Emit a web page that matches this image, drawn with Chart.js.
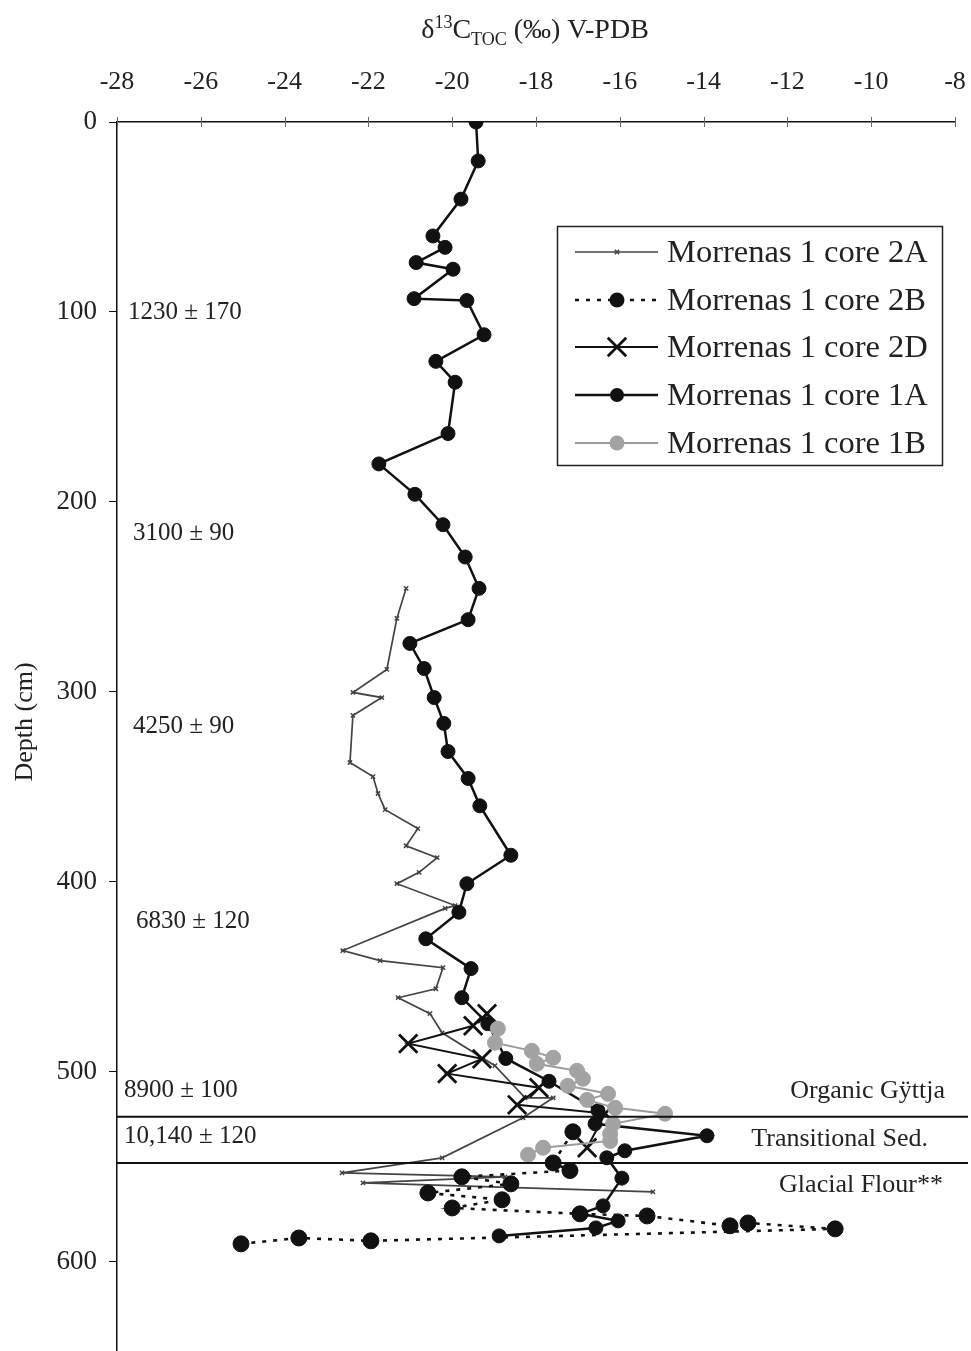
<!DOCTYPE html>
<html><head><meta charset="utf-8">
<script src="https://cdn.jsdelivr.net/npm/chart.js@4.4.1/dist/chart.umd.min.js"></script>
<style>html,body{margin:0;padding:0;background:#fff;}#wrap{width:971px;height:1351px;}</style>
</head><body><div id="wrap"><canvas id="c" width="971" height="1351"></canvas></div>
<script>
// ---- data (δ13C in ‰, depth in cm) ----
const core2A_d13C = [-21.10,-21.32,-21.56,-22.37,-21.68,-22.37,-22.44,-21.89,-21.77,-21.60,-20.82,-21.10,-20.36,-20.79,-21.32,-19.93,-20.17,-22.61,-21.72,-20.22,-20.39,-21.29,-20.53,-20.24,-18.98,-18.26,-17.59,-18.31,-20.24,-22.63,-18.74,-22.13,-15.21];
const core2A_depth = [245.5,261.3,288.2,300.3,303,312.4,337.2,344.6,353.5,362,372,381,387.3,395,401,412.5,414,436.2,441.5,445.2,456.3,461,469.4,479.5,496.8,513.7,513.7,524.2,545.3,553.2,555.3,558.5,563.2];

const core2B_d13C = [-17.12,-17.59,-17.19,-19.77,-18.60,-20.58,-18.81,-20.00,-16.95,-15.35,-13.37,-12.94,-10.86,-21.94,-23.66,-25.04];
const core2B_depth = [531.6,548,552,555.3,559,563.8,567.4,571.7,574.8,575.9,581.1,579.6,582.7,589,587.5,590.6];

const core2D_d13C = [-19.17,-19.50,-21.05,-19.29,-20.12,-17.93,-18.45,-16.35,-16.78];
const core2D_depth = [469.4,475.8,485.2,493.2,501,508.4,517.4,522,540];

const core1A_d13C = [-19.43,-19.38,-19.79,-20.46,-20.17,-20.86,-19.98,-20.91,-19.65,-19.24,-20.39,-19.93,-20.10,-21.75,-20.89,-20.22,-19.69,-19.36,-19.62,-21.01,-20.67,-20.43,-20.20,-20.10,-19.62,-19.34,-18.60,-19.65,-19.84,-20.63,-19.55,-19.77,-19.15,-18.72,-17.69,-16.52,-16.59,-13.92,-15.88,-16.31,-15.95,-16.40,-16.95,-16.04,-16.57,-18.88];
const core1A_depth = [0,20.5,40.6,60,66,74,77.5,93,94,112,126,137,164,180,196,212,229,245.5,262,274.5,287.7,303,316.6,331.4,345.6,360,386,401,416,430,445.7,461,474.7,493,505,520.5,527.4,533.7,541.6,545.3,556,570.6,574.8,578.5,582.2,586.4];

const core1B_d13C = [-18.91,-18.98,-18.10,-17.59,-17.98,-17.02,-16.88,-17.24,-16.28,-16.78,-16.11,-14.92,-16.16,-16.23,-16.23,-17.83,-18.19];
const core1B_depth = [477.3,484.7,489,492.6,495.8,499.5,503.7,507.4,511.6,514.8,519,522.1,527.4,532.7,536.4,540,543.7];

const seriesNames = ['Morrenas 1 core 2A','Morrenas 1 core 2B','Morrenas 1 core 2D','Morrenas 1 core 1A','Morrenas 1 core 1B'];
const xTickValues = [-28,-26,-24,-22,-20,-18,-16,-14,-12,-10,-8];
const depthTickValues = [0,100,200,300,400,500,600];
const layerBoundaryDepths = [523.7, 548];
const ageLabels = ['1230 \u00b1 170','3100 \u00b1 90','4250 \u00b1 90','6830 \u00b1 120','8900 \u00b1 100','10,140 \u00b1 120'];
const ageLabelDepths = [100.1, 216.5, 318.2, 421, 510, 534.3];
const unitLabels = ['Organic G\u00ffttja','Transitional Sed.','Glacial Flour**'];
const unitLabelDepths = [510, 535.3, 559.5];

// ---- styles (layout only) ----
const SERIF = '"Liberation Serif", "Times New Roman", serif';
const ageLabelX = [128,133,133,136,124,124];
const unitLabelRight = [945,928,943];
const styles = [
  {line:'#444', lw:1.7, dash:[], marker:'crossRot', r:3, fill:'#444', mlw:1.5, order:5},
  {line:'#111', lw:2.6, dash:[4,7], marker:'circle', r:8, fill:'#111', mlw:1, order:4},
  {line:'#111', lw:2, dash:[], marker:'crossRot', r:13, fill:'#111', mlw:2.8, order:3},
  {line:'#111', lw:2.5, dash:[], marker:'circle', r:7, fill:'#111', mlw:1, order:2},
  {line:'#9c9c9c', lw:2, dash:[], marker:'circle', r:7.5, fill:'#a3a3a3', mlw:1, order:1}
];

const pairs = (xs, ys) => xs.map((v,i)=>({x:v, y:ys[i]}));
const seriesData = [
  pairs(core2A_d13C, core2A_depth),
  pairs(core2B_d13C, core2B_depth),
  pairs(core2D_d13C, core2D_depth),
  pairs(core1A_d13C, core1A_depth),
  pairs(core1B_d13C, core1B_depth)
];

const datasets = seriesData.map((d,i)=>({
  label: seriesNames[i], data: d, showLine:true, tension:0,
  borderColor: styles[i].line, borderWidth: styles[i].lw, borderDash: styles[i].dash,
  pointStyle: styles[i].marker, pointRadius: styles[i].r, pointHoverRadius: styles[i].r,
  pointBackgroundColor: styles[i].fill, pointBorderColor: styles[i].fill,
  pointBorderWidth: styles[i].mlw, order: styles[i].order
}));

function drawMarker(ctx, s, x, y){
  ctx.save();
  ctx.setLineDash([]);
  ctx.fillStyle = s.fill; ctx.strokeStyle = s.fill; ctx.lineWidth = s.mlw;
  if (s.marker === 'circle'){
    ctx.beginPath(); ctx.arc(x, y, Math.min(s.r, 7.5), 0, Math.PI*2); ctx.fill();
  } else {
    const r = s.r*0.71;
    ctx.beginPath(); ctx.moveTo(x-r,y-r); ctx.lineTo(x+r,y+r); ctx.moveTo(x+r,y-r); ctx.lineTo(x-r,y+r); ctx.stroke();
  }
  ctx.restore();
}

function zeroMargins(s){ s.paddingLeft = 0; s.paddingRight = 0; s.paddingTop = 0; s.paddingBottom = 0; }

const overlay = {
  id:'overlay',
  afterDraw(chart){
    const ctx = chart.ctx, xs = chart.scales.x, ys = chart.scales.y, ca = chart.chartArea;
    ctx.save();
    ctx.strokeStyle = '#666'; ctx.lineWidth = 1;
    xTickValues.forEach(v=>{ const px = Math.round(xs.getPixelForValue(v))+0.5;
      ctx.beginPath(); ctx.moveTo(px, ca.top-5); ctx.lineTo(px, ca.top+5); ctx.stroke(); });
    ctx.strokeStyle = '#111'; ctx.lineWidth = 2;
    layerBoundaryDepths.forEach(d=>{ const y = ys.getPixelForValue(d);
      ctx.beginPath(); ctx.moveTo(ca.left, y); ctx.lineTo(chart.width-3, y); ctx.stroke(); });
    ctx.fillStyle = '#222'; ctx.textBaseline = 'middle'; ctx.textAlign = 'left';
    ctx.font = '25px ' + SERIF;
    ageLabels.forEach((t,i)=> ctx.fillText(t, ageLabelX[i], ys.getPixelForValue(ageLabelDepths[i])));
    ctx.textAlign = 'right'; ctx.font = '26px ' + SERIF;
    unitLabels.forEach((t,i)=> ctx.fillText(t, unitLabelRight[i], ys.getPixelForValue(unitLabelDepths[i])));
    ctx.save(); ctx.translate(25, 722); ctx.rotate(-Math.PI/2);
    ctx.textAlign = 'center'; ctx.font = '26px ' + SERIF; ctx.fillText('Depth (cm)', 0, 0); ctx.restore();
    const big = '28px ' + SERIF, small = '18px ' + SERIF;
    const parts = [['\u03b4',big,0],['13',small,-10],['C',big,0],['TOC',small,7],[' (\u2030) V-PDB',big,0]];
    let w = 0; parts.forEach(p=>{ ctx.font = p[1]; w += ctx.measureText(p[0]).width; });
    let x = 535 - w/2; ctx.textAlign = 'left'; ctx.textBaseline = 'alphabetic';
    parts.forEach(p=>{ ctx.font = p[1]; ctx.fillText(p[0], x, 38 + p[2]); x += ctx.measureText(p[0]).width; });
    ctx.strokeStyle = '#222'; ctx.lineWidth = 1.5;
    ctx.strokeRect(557.5, 226.5, 385, 239);
    const rowY = [252, 300, 347, 395, 443];
    ctx.font = '32.5px ' + SERIF; ctx.textBaseline = 'middle';
    styles.forEach((s,i)=>{
      const y = rowY[i];
      ctx.save(); ctx.strokeStyle = s.line; ctx.lineWidth = s.lw; ctx.setLineDash(s.dash);
      ctx.beginPath(); ctx.moveTo(575, y); ctx.lineTo(658, y); ctx.stroke(); ctx.restore();
      drawMarker(ctx, s, 617, y);
      ctx.fillStyle = '#222'; ctx.fillText(seriesNames[i], 667, y+1);
    });
    ctx.restore();
  }
};

new Chart(document.getElementById('c'), {
  type:'scatter',
  data:{ datasets },
  options:{
    responsive:false, animation:false, devicePixelRatio:1,
    layout:{ autoPadding:false, padding:{ left:0, right:16, top:0, bottom:0 } },
    plugins:{ legend:{display:false}, tooltip:{enabled:false} },
    scales:{
      x:{ type:'linear', position:'top', min:-28, max:-8,
        afterBuildTicks(s){ s.ticks = xTickValues.map(v=>({value:v})); },
        ticks:{ font:{family:SERIF, size:26}, color:'#222', padding:24, maxRotation:0, autoSkip:false },
        grid:{ drawOnChartArea:false, drawTicks:false },
        border:{ display:true, color:'#111', width:1.5 },
        afterFit(s){ s.height = 122; zeroMargins(s); } },
      y:{ type:'linear', reverse:true, min:0, max:647,
        afterBuildTicks(s){ s.ticks = depthTickValues.map(v=>({value:v})); },
        ticks:{ font:{family:SERIF, size:27}, color:'#222', padding:12, autoSkip:false },
        grid:{ drawOnChartArea:false, drawTicks:true, tickLength:8, color:'#111' },
        border:{ display:true, color:'#111', width:1.5 },
        afterFit(s){ s.width = 117; zeroMargins(s); } }
    }
  },
  plugins:[overlay]
});
</script></body></html>
